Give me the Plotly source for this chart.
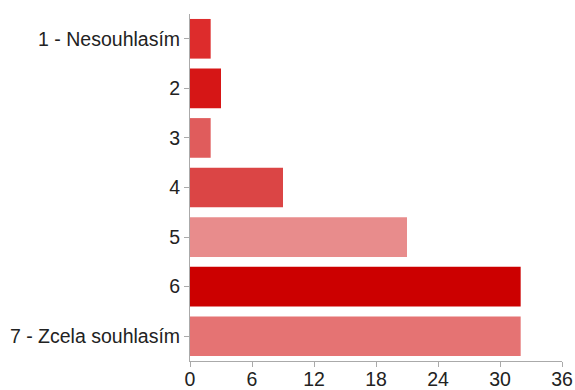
import plotly.graph_objects as go

categories = ["1 - Nesouhlasím", "2", "3", "4", "5", "6", "7 - Zcela souhlasím"]
values = [2, 3, 2, 9, 21, 32, 32]
colors = ["#dd2c2c", "#d61616", "#e05c5c", "#db4545", "#e88c8c", "#cc0000", "#e57373"]
x_ticks = [0, 6, 12, 18, 24, 30, 36]

fig = go.Figure(go.Bar(
    x=values, y=categories, orientation="h",
    marker=dict(color=colors, line=dict(width=0)),
    hoverinfo="x+y",
))

fig.update_layout(
    width=575, height=390,
    margin=dict(l=190, r=13, t=14, b=29),
    paper_bgcolor="white", plot_bgcolor="white",
    bargap=0.2,
    showlegend=False,
    font=dict(family="Liberation Sans, Arial, sans-serif", size=19.5, color="#222222"),
)
fig.update_xaxes(
    range=[0, 36], tickvals=x_ticks, showgrid=False, zeroline=False,
    showline=True, linecolor="#aaaaaa", linewidth=1,
    ticks="outside", ticklen=5, tickcolor="#aaaaaa",
    ticklabelstandoff=-4,
    automargin=False,
)
fig.update_yaxes(
    autorange="reversed", showgrid=False, zeroline=False,
    showline=True, linecolor="#aaaaaa", linewidth=1,
    ticks="outside", ticklen=5, tickcolor="#aaaaaa",
    automargin=False,
)

fig.write_html("out.html")
